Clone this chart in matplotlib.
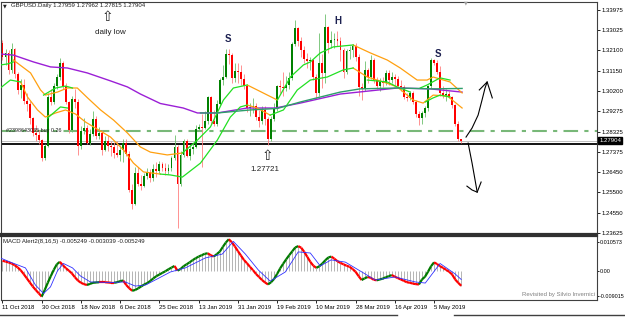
import matplotlib
matplotlib.use("Agg")
import matplotlib.pyplot as plt
import matplotlib.transforms as mtransforms
from matplotlib.collections import LineCollection
import numpy as np

plt.rcParams['font.family'] = ['Liberation Sans', 'DejaVu Sans']

# ---------------- data (bar 0 = 11 Oct 2018, daily bars) ----------------
header = "GBPUSD.Daily 1.27959 1.27962 1.27815 1.27904"
last_price = 1.27904
support = 1.2777
order_level = 1.28365
order_text = "#2398643035 buy 0.26"

first_open = 1.3245
highs = [1.3258, 1.3215, 1.3210, 1.3245, 1.3220, 1.3110, 1.3075, 1.3075, 1.3010, 1.2975,
         1.2900, 1.2865, 1.2840, 1.2800, 1.2775, 1.3010, 1.3030, 1.3060, 1.3100, 1.3175,
         1.3160, 1.3060, 1.2975, 1.3000, 1.3030, 1.2985, 1.2860, 1.2895, 1.2865, 1.2845,
         1.2930, 1.2905, 1.2855, 1.2840, 1.2810, 1.2815, 1.2790, 1.2785, 1.2790, 1.2770,
         1.2800, 1.2800, 1.2740, 1.2590, 1.2670, 1.2670, 1.2630, 1.2640, 1.2665, 1.2660,
         1.2680, 1.2690, 1.2695, 1.2690, 1.2685, 1.2680, 1.2720, 1.2815, 1.2770, 1.2740,
         1.2800, 1.2800, 1.2770, 1.2780, 1.2865, 1.2870, 1.2915, 1.2930, 1.3000, 1.3000,
         1.2935, 1.2980, 1.3080, 1.3140, 1.3215, 1.3218, 1.3200, 1.3150, 1.3150, 1.3140,
         1.3100, 1.3050, 1.2965, 1.2990, 1.2965, 1.2935, 1.2950, 1.2950, 1.2900, 1.2905,
         1.2965, 1.3050, 1.3070, 1.3110, 1.3090, 1.3110, 1.3250, 1.3350, 1.3320, 1.3270,
         1.3230, 1.3200, 1.3180, 1.3170, 1.3100, 1.3290, 1.3195, 1.3380, 1.3325, 1.3300,
         1.3290, 1.3300, 1.3270, 1.3220, 1.3215, 1.3230, 1.3240, 1.3245, 1.3195, 1.3060,
         1.3160, 1.3130, 1.3190, 1.3175, 1.3085, 1.3080, 1.3085, 1.3120, 1.3120, 1.3110,
         1.3100, 1.3090, 1.3070, 1.3050, 1.3010, 1.3020, 1.3020, 1.2980, 1.2930, 1.2930,
         1.2950, 1.3050, 1.3176, 1.3170, 1.3165, 1.3135, 1.3045, 1.3030, 1.3020, 1.3000,
         1.2960, 1.2880, 1.27962]
lows = [1.3165, 1.3140, 1.3100, 1.3105, 1.3080, 1.3005, 1.2990, 1.2960, 1.2930, 1.2870,
        1.2810, 1.2790, 1.2775, 1.2695, 1.2700, 1.2760, 1.2955, 1.2960, 1.3030, 1.3070,
        1.3030, 1.2960, 1.2825, 1.2830, 1.2940, 1.2725, 1.2750, 1.2820, 1.2775, 1.2770,
        1.2810, 1.2800, 1.2800, 1.2725, 1.2740, 1.2740, 1.2720, 1.2710, 1.2715, 1.2695,
        1.2690, 1.2720, 1.2550, 1.2475, 1.2490, 1.2580, 1.2560, 1.2575, 1.2610, 1.2600,
        1.2605, 1.2620, 1.2640, 1.2650, 1.2630, 1.2635, 1.2650, 1.2700, 1.2385, 1.2580,
        1.2715, 1.2715, 1.2700, 1.2730, 1.2755, 1.2840, 1.2670, 1.2845, 1.2870, 1.2870,
        1.2860, 1.2860, 1.2955, 1.3050, 1.3080, 1.3145, 1.3060, 1.3065, 1.3060, 1.3050,
        1.3030, 1.2925, 1.2905, 1.2920, 1.2885, 1.2855, 1.2870, 1.2865, 1.2772, 1.2790,
        1.2880, 1.2930, 1.3010, 1.3000, 1.3020, 1.3030, 1.3070, 1.3230, 1.3230, 1.3180,
        1.3150, 1.3130, 1.3120, 1.3070, 1.2985, 1.3000, 1.3035, 1.3060, 1.3200, 1.3220,
        1.3220, 1.3230, 1.3160, 1.3080, 1.3100, 1.3170, 1.3180, 1.3160, 1.3000, 1.2980,
        1.3020, 1.3060, 1.3075, 1.3060, 1.3030, 1.3020, 1.3040, 1.3050, 1.3050, 1.3060,
        1.3050, 1.3035, 1.3020, 1.2985, 1.2975, 1.2980, 1.2960, 1.2900, 1.2865, 1.2870,
        1.2900, 1.2930, 1.3035, 1.3140, 1.3100, 1.3000, 1.2990, 1.2975, 1.2990, 1.2940,
        1.2860, 1.2790, 1.27815]
closes = [1.3180, 1.3200, 1.3120, 1.3215, 1.3100, 1.3025, 1.3050, 1.2975, 1.2960, 1.2895,
          1.2825, 1.2815, 1.2795, 1.2710, 1.2765, 1.2995, 1.2970, 1.3045, 1.3085, 1.3150,
          1.3045, 1.2970, 1.2840, 1.2985, 1.2970, 1.2765, 1.2835, 1.2850, 1.2780, 1.2820,
          1.2890, 1.2810, 1.2825, 1.2745, 1.2790, 1.2765, 1.2760, 1.2735, 1.2725, 1.2745,
          1.2780, 1.2730, 1.2560, 1.2495, 1.2640, 1.2590, 1.2580, 1.2625, 1.2645, 1.2615,
          1.2660, 1.2650, 1.2680, 1.2665, 1.2650, 1.2665, 1.2710, 1.2760, 1.2590, 1.2725,
          1.2790, 1.2720, 1.2750, 1.2760, 1.2845, 1.2855, 1.2850, 1.2880, 1.2995, 1.2880,
          1.2870, 1.2960, 1.3070, 1.3085, 1.3195, 1.3190, 1.3080, 1.3115, 1.3110, 1.3075,
          1.3045, 1.2940, 1.2945, 1.2950, 1.2900, 1.2880, 1.2935, 1.2890, 1.2800, 1.2890,
          1.2940, 1.3045, 1.3040, 1.3035, 1.3050, 1.3080, 1.3240, 1.3315, 1.3255, 1.3210,
          1.3170, 1.3160, 1.3165, 1.3085, 1.3010, 1.3150, 1.3105, 1.3320, 1.3245, 1.3260,
          1.3265, 1.3255, 1.3210, 1.3110, 1.3205, 1.3210, 1.3230, 1.3180, 1.3040, 1.3030,
          1.3120, 1.3085, 1.3165, 1.3070, 1.3045, 1.3065, 1.3060, 1.3105, 1.3070, 1.3085,
          1.3075, 1.3045, 1.3040, 1.2995, 1.2990, 1.3010, 1.2970, 1.2915, 1.2895, 1.2920,
          1.2940, 1.3045, 1.3165, 1.3150, 1.3110, 1.3010, 1.3000, 1.3005, 1.2995, 1.2955,
          1.2870, 1.2796, 1.27904]

# moving averages (bar, price)
purple_x = [-0.7, 3.6, 10.3, 15.9, 21.5, 28.1, 35.8, 41.4, 45.7, 52.3, 59.9, 64.6, 71.2,
            81.1, 90.4, 98.7, 111.9, 130.8, 141.7, 152.3]
purple_y = [1.3193, 1.3188, 1.3156, 1.3133, 1.3128, 1.3105, 1.3068, 1.3040, 1.3007, 1.2963,
            1.2942, 1.2919, 1.2919, 1.2942, 1.2942, 1.2965, 1.3007, 1.3035, 1.3031, 1.3016]
teal_x = [65.6, 71.2, 82.1, 91.1, 98.7, 105.3, 111.9, 118.5, 130.8, 142.7, 152.3]
teal_y = [1.2919, 1.2919, 1.2933, 1.2940, 1.2970, 1.2993, 1.3016, 1.3031, 1.3035, 1.3031, 1.3033]

band_orange = [
    ([3.6, 9.3, 12.6, 14.2, 18.2, 21.5, 24.8, 28.2, 32.5, 36.8, 41.4, 45.7, 49.0, 54.6, 59.6],
     [1.3165, 1.3105, 1.3026, 1.3002, 1.3016, 1.3035, 1.3035, 1.2989, 1.2933, 1.2886, 1.2826,
      1.2761, 1.2737, 1.2724, 1.2733]),
    ([81.1, 84.4, 87.8, 91.1], [1.3049, 1.3026, 1.3002, 1.2979]),
    ([116.2, 121.9, 127.5, 131.8, 137.4, 140.7, 142.7, 148.3, 152.3],
     [1.3235, 1.3198, 1.3165, 1.3128, 1.3072, 1.3072, 1.3086, 1.3063, 1.3012]),
    ([6.0, 8.3, 11.6, 14.2, 17.6, 20.9, 24.2, 27.5, 30.8, 35.8, 40.1, 43.4, 46.7, 52.3],
     [1.3063, 1.2993, 1.2933, 1.2900, 1.2919, 1.2933, 1.2914, 1.2877, 1.2849, 1.2807, 1.2747,
      1.2686, 1.2645, 1.2635]),
    ([81.1, 84.4, 88.7], [1.2956, 1.2942, 1.2909]),
    ([116.2, 120.9, 126.2, 130.8, 136.1, 139.4, 142.7, 147.4, 152.3],
     [1.3128, 1.3086, 1.3063, 1.3040, 1.2979, 1.2965, 1.3002, 1.2998, 1.2942]),
]
band_green = [
    ([-0.7, 1.7, 3.6], [1.3142, 1.3147, 1.3156]),
    ([13.6, 17.6, 20.9, 23.2], [1.3002, 1.3035, 1.3044, 1.3035]),
    ([59.6, 64.6, 68.9, 73.2, 76.5, 81.1], [1.2733, 1.2793, 1.2854, 1.2979, 1.3035, 1.3049]),
    ([91.1, 95.4, 99.7, 102.0, 105.3, 109.6, 116.2],
     [1.2979, 1.3086, 1.3142, 1.3156, 1.3198, 1.3226, 1.3235]),
    ([138.4, 140.7, 145.0, 148.3], [1.3035, 1.3049, 1.3082, 1.3072]),
    ([-0.7, 2.6, 6.0], [1.3035, 1.3072, 1.3063]),
    ([14.9, 19.2, 21.5], [1.2895, 1.2947, 1.2942]),
    ([52.3, 55.6, 59.6, 65.6, 71.2, 75.5, 78.8, 81.1],
     [1.2635, 1.2631, 1.2621, 1.2686, 1.2793, 1.2900, 1.2947, 1.2956]),
    ([88.7, 93.1, 97.7, 102.0, 107.6, 112.9, 116.2],
     [1.2909, 1.2933, 1.3026, 1.3072, 1.3086, 1.3119, 1.3128]),
    ([120.9, 127.5, 130.8, 135.1], [1.3072, 1.3063, 1.3040, 1.3016]),
    ([140.1, 142.7, 145.0, 148.3], [1.2970, 1.2989, 1.3002, 1.2993]),
]

# MACD (8,16,5) main line per bar, signal read at points
macd = [0.0038, 0.0035, 0.0032, 0.0028, 0.0022, 0.0014, 0.0004, -0.0010, -0.0025, -0.0040,
        -0.0055, -0.0068, -0.0080, -0.0092, -0.0068, -0.0042, -0.0018, 0.0005, 0.0025, 0.0034,
        0.0022, 0.0011, 0.0002, -0.0008, -0.0022, -0.0034, -0.0042, -0.0047, -0.0050, -0.0046,
        -0.0042, -0.0041, -0.0040, -0.0040, -0.0040, -0.0041, -0.0042, -0.0042, -0.0040, -0.0036,
        -0.0034, -0.0050, -0.0062, -0.0071, -0.0068, -0.0062, -0.0055, -0.0048, -0.0043, -0.0035,
        -0.0026, -0.0018, -0.0012, -0.0006, 0.0000, 0.0007, 0.0013, 0.0019, 0.0002, 0.0008,
        0.0018, 0.0025, 0.0032, 0.0040, 0.0047, 0.0053, 0.0058, 0.0063, 0.0065, 0.0058,
        0.0053, 0.0062, 0.0071, 0.0088, 0.0104, 0.0116, 0.0105, 0.0090, 0.0073, 0.0057,
        0.0041, 0.0029, 0.0016, 0.0004, -0.0010, -0.0021, -0.0032, -0.0041, -0.0048, -0.0040,
        -0.0028, -0.0010, 0.0010, 0.0027, 0.0043, 0.0058, 0.0072, 0.0086, 0.0091, 0.0085,
        0.0070, 0.0052, 0.0034, 0.0020, 0.0012, 0.0018, 0.0028, 0.0040, 0.0050, 0.0053,
        0.0045, 0.0036, 0.0030, 0.0025, 0.0020, 0.0016, 0.0008, -0.0002, -0.0018, -0.0032,
        -0.0026, -0.0021, -0.0024, -0.0031, -0.0033, -0.0030, -0.0027, -0.0022, -0.0018, -0.0014,
        -0.0020, -0.0025, -0.0030, -0.0035, -0.0040, -0.0042, -0.0045, -0.0047, -0.0048, -0.0030,
        -0.0020, -0.0002, 0.0018, 0.0032, 0.0026, 0.0018, 0.0012, 0.0005, -0.0002, -0.0012,
        -0.0030, -0.0042, -0.0053]
signal_x = [-0.7, 2.6, 7.6, 10.9, 13.6, 15.9, 18.2, 20.2, 23.2, 25.8, 29.1, 35.8, 40.7, 44.0,
            47.4, 51.3, 55.6, 60.6, 67.2, 72.8, 76.5, 80.5, 84.8, 88.7, 93.7, 98.0, 102.0,
            105.3, 108.9, 113.6, 118.5, 123.5, 130.1, 136.8, 140.1, 145.0, 150.0, 152.0]
signal_y = [0.0048, 0.0033, 0.0012, -0.0050, -0.0081, -0.0057, 0.0001, 0.0028, 0.0012, -0.0017,
            -0.0039, -0.0041, -0.0039, -0.0054, -0.0050, -0.0028, -0.0003, 0.0012, 0.0048, 0.0062,
            0.0108, 0.0062, 0.0004, -0.0036, -0.0003, 0.0070, 0.0066, 0.0019, 0.0041, 0.0033,
            0.0001, -0.0032, -0.0021, -0.0039, -0.0043, 0.0028, -0.0010, -0.0030]
macd_text = "MACD Alert2(8,16,5) -0.005249 -0.003039 -0.005249"

date_labels = ["11 Oct 2018", "30 Oct 2018", "18 Nov 2018", "6 Dec 2018", "25 Dec 2018",
               "13 Jan 2019", "31 Jan 2019", "19 Feb 2019", "10 Mar 2019", "28 Mar 2019",
               "16 Apr 2019", "5 May 2019"]
price_ticks = [1.33975, 1.33025, 1.32100, 1.31150, 1.30200, 1.29275, 1.28325, 1.27375,
               1.26450, 1.25500, 1.24550, 1.23625]
macd_ticks = [0.010573, 0.0, -0.009015]
macd_tick_labels = ["0.010573", "0.00", "-0.009015"]

# ---------------- figure ----------------
W, H = 625, 317
fig = plt.figure(figsize=(W / 100, H / 100), dpi=100)
fig.patch.set_facecolor('white')
ax = fig.add_axes([0.5 / W, 1 - 234 / H, 596.5 / W, 232 / H])
axm = fig.add_axes([0.5 / W, 1 - 300 / H, 596.5 / W, 64 / H])

xlim = (-0.66, 197.0)
small = 4.3

# candles
o = np.array([first_open] + closes[:-1])
c = np.array(closes)
hi = np.array(highs)
lo = np.array(lows)
xs = np.arange(len(c))
up = c >= o
dn = ~up
ax.vlines(xs[up], lo[up], hi[up], color='#6cbf6c', lw=0.6, zorder=3)
ax.vlines(xs[dn], lo[dn], hi[dn], color='#ff8080', lw=0.6, zorder=3)
bb = np.minimum(o, c)
bh = np.maximum(np.abs(c - o), 0.00025)
ax.bar(xs[up], bh[up], bottom=bb[up], width=0.62, color='#008000', lw=0, zorder=4)
ax.bar(xs[dn], bh[dn], bottom=bb[dn], width=0.62, color='#ff0000', lw=0, zorder=4)

# indicator lines
ax.plot(purple_x, purple_y, color='#9b1fd6', lw=1.0, zorder=5)
ax.plot(teal_x, teal_y, color='#2e9e6a', lw=1.0, zorder=6)
for bx, by in band_orange:
    ax.plot(bx, by, color='#ffa010', lw=0.9, zorder=5)
for bx, by in band_green:
    ax.plot(bx, by, color='#22e022', lw=0.9, zorder=5)

# horizontal levels
ax.axhline(order_level, color='#78b878', lw=1.5, dashes=(7, 3, 2, 3), zorder=2)
ax.axhline(last_price, color='#c0c0c0', lw=0.7, zorder=2)
ax.axhline(support, color='black', lw=1.3, zorder=2)
ax.text(1.3, order_level + 0.0003, order_text, fontsize=3.9, color='#202020',
        ha='left', va='center', zorder=7)

# annotations
ax.text(34.8, 1.3363, "\u21e7", family='DejaVu Sans', fontsize=10, ha='center',
        va='center', color='#202020')
ax.text(35.8, 1.3295, "daily low", fontsize=5.8, ha='center', va='center', color='#202020')
ax.text(87.7, 1.2719, "\u21e7", family='DejaVu Sans', fontsize=10, ha='center',
        va='center', color='#202020')
ax.text(86.8, 1.2654, "1.27721", fontsize=5.8, ha='center', va='center', color='#202020')
for bx, py, s in [(74.8, 1.3263, "S"), (111.3, 1.3346, "H"), (144.4, 1.3193, "S")]:
    ax.text(bx, py, s, fontsize=7, fontweight='bold', ha='center', va='center',
            color='#1c2050', zorder=8)

# hand drawn arrows
ax.plot([153.6, 155.6, 157.6, 158.9, 159.9, 160.6], [1.2807, 1.2849, 1.2909, 1.2979,
        1.3035, 1.3063], color='black', lw=0.8)
ax.plot([158.0, 160.6, 162.3], [1.3026, 1.3063, 1.2989], color='black', lw=0.8)
ax.plot([154.3, 155.6, 156.6, 157.3], [1.2779, 1.2686, 1.2607, 1.2551], color='black', lw=0.8)
ax.plot([153.9, 155.6, 157.3, 158.6], [1.2579, 1.2561, 1.2551, 1.2598], color='black', lw=0.8)

ax.set_xlim(*xlim)
ax.set_ylim(1.23565, 1.34347)
ax.set_xticks([])
ax.yaxis.tick_right()
ax.set_yticks(price_ticks)
ax.set_yticklabels(["%.5f" % p for p in price_ticks])
ax.tick_params(axis='y', length=1.8, width=0.6, pad=1.2, labelsize=small, colors='black')

trans = mtransforms.blended_transform_factory(ax.transAxes, ax.transData)
ax.text(1.0035, last_price, "%.5f" % last_price, transform=trans, fontsize=small,
        color='white', ha='left', va='center',
        bbox=dict(boxstyle='square,pad=0.15', fc='black', ec='black'))
ax.text(0.005, 0.984, "\u25bc", transform=ax.transAxes, family='DejaVu Sans',
        fontsize=3.5, ha='left', va='center', color='#202020')
ax.text(0.017, 0.984, header, transform=ax.transAxes, fontsize=small, ha='left',
        va='center', color='#202020')
ax.text(0.78, 0.995, "\u25bc", transform=ax.transAxes, family='DejaVu Sans',
        fontsize=3.5, ha='center', va='center', color='#a0a0a0')

for sp in ax.spines.values():
    sp.set_color('#404040')
    sp.set_linewidth(0.8)
ax.spines['bottom'].set_linewidth(1.6)
ax.spines['bottom'].set_color('#303030')

# ---------------- MACD panel ----------------
m = np.array(macd)
axm.vlines(xs, 0, m, color='#a8a8a8', lw=0.6, zorder=1)
segs = [[(i - 1, m[i - 1]), (i, m[i])] for i in range(1, len(m))]
cols = ['#007a00' if m[i] > m[i - 1] else '#ff0000' for i in range(1, len(m))]
axm.add_collection(LineCollection(segs, colors=cols, linewidths=1.6, zorder=3))
axm.plot(signal_x, signal_y, color='#3030ff', lw=0.6, zorder=4)

axm.set_xlim(*xlim)
axm.set_ylim(-0.01045, 0.01277)
axm.yaxis.tick_right()
axm.set_yticks(macd_ticks)
axm.set_yticklabels(macd_tick_labels)
axm.tick_params(axis='y', length=1.2, width=0.6, pad=0.6, labelsize=3.9, colors='black')
axm.set_xticks(np.arange(len(date_labels)) * 13)
axm.set_xticklabels(date_labels)
for lab in axm.get_xticklabels():
    lab.set_ha('left')
axm.tick_params(axis='x', length=1.8, width=0.6, pad=1.5, labelsize=small, colors='black')
axm.text(0.005, 0.92, macd_text, transform=axm.transAxes, fontsize=small, ha='left',
         va='center', color='#202020')
axm.text(0.9966, 0.08, "Revisited by Silvio Invernici", transform=axm.transAxes,
         fontsize=small, ha='right', va='center', color='#808080')
for sp in axm.spines.values():
    sp.set_color('#404040')
    sp.set_linewidth(0.8)
axm.spines['top'].set_linewidth(1.6)
axm.spines['top'].set_color('#303030')

# tab bar at the bottom
fig.add_artist(plt.Line2D([0, 397 / W], [1 - 314.5 / H] * 2, color='#404040', lw=1.0))
fig.add_artist(plt.Line2D([454 / W, 1], [1 - 314.5 / H] * 2, color='#404040', lw=1.0))

fig.savefig("out.png", dpi=100)
